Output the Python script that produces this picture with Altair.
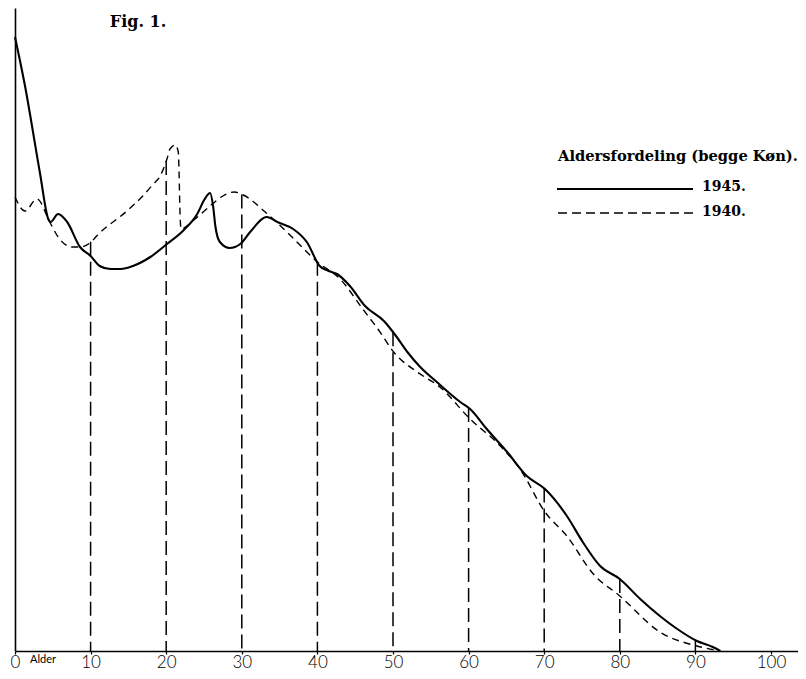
import altair as alt
import pandas as pd
import numpy as np

# ---- data (relative height units) ----
age_1945 = [0.0, 1.3, 3.3, 4.4, 4.7, 5.7, 6.9, 8.6, 10.0, 11.2, 12.6, 14.0, 15.6, 17.9,
            20.1, 22.2, 24.1, 25.1, 25.8, 26.2, 26.5, 27.1, 28.4, 29.8, 31.1, 33.3,
            34.7, 36.8, 38.6, 40.3, 41.5, 42.6, 44.3, 46.3, 48.8, 50.3, 51.9, 53.6,
            55.8, 58.9, 60.2, 62.4, 65.1, 67.7, 70.1, 73.0, 75.1, 77.4, 80.0, 82.7,
            85.3, 87.6, 90.2, 92.3, 93.3]
val_1945 = [614, 566, 478, 432, 429, 437, 429, 404, 395, 385, 382, 382, 385, 394,
            407, 420, 437, 452, 458, 445, 425, 409, 403, 407, 419, 434,
            429, 422, 409, 385, 380, 377, 365, 345, 330, 316, 299, 284,
            269, 249, 242, 222, 199, 175, 162, 135, 109, 85, 72, 52,
            35, 22, 10, 4, 0]

age_1940 = [0.0, 1.3, 2.9, 4.6, 5.7, 7.5, 8.6, 10.2, 10.8, 14.8, 16.9, 18.3, 19.2,
            20.1, 20.5, 21.2, 21.6, 21.7, 21.8, 21.96, 23.5, 25.5, 27.5, 29.0, 30.2,
            33.1, 36.5, 40.0, 43.0, 46.0, 48.0, 50.3, 53.2, 56.2, 60.2, 64.2, 66.8,
            70.1, 73.0, 76.5, 80.0, 85.3, 90.2, 93.3]
val_1940 = [454, 440, 452, 429, 414, 404, 404, 410, 415, 440, 455, 467, 475,
            492, 502, 506, 499, 479, 445, 422, 430, 443, 455, 459, 456,
            439, 415, 389, 372, 342, 322, 297, 279, 264, 232, 205, 182,
            139, 115, 77, 55, 19, 5, 0]

decades = [10, 20, 30, 40, 50, 60, 70, 80, 90]
tick_values = [0, 10, 20, 30, 40, 50, 60, 70, 80, 90, 100]

df45 = pd.DataFrame({"alder": age_1945, "v": val_1945})
df40 = pd.DataFrame({"alder": age_1940, "v": val_1940})
tops = [max(np.interp(a, age_1945, val_1945), np.interp(a, age_1940, val_1940)) for a in decades]
dfr = pd.DataFrame({"alder": decades, "top": tops})

W, H = 783, 643
xs = alt.Scale(domain=[0, 783 / 7.56], nice=False, zero=False)
ys = alt.Scale(domain=[0, 643], nice=False)

serif = "DejaVu Serif"
sans = "Lato, Open Sans, sans-serif"

x_axis = alt.Axis(values=tick_values, title=None, grid=False, domainColor="black",
                  domainWidth=1.6, tickColor="black", tickSize=3, tickWidth=1.2,
                  labelFont=sans, labelFontSize=17, labelFontWeight=300,
                  labelColor="black", labelBaseline="alphabetic", labelPadding=13,
                  labelFlush=False)
y_axis = alt.Axis(title=None, grid=False, labels=False, ticks=False, domainColor="black",
                  domainWidth=1.6)

line45 = alt.Chart(df45).mark_line(color="black", strokeWidth=2.1, interpolate="monotone").encode(
    x=alt.X("alder:Q", scale=xs, axis=x_axis),
    y=alt.Y("v:Q", scale=ys, axis=y_axis),
)
line40 = alt.Chart(df40).mark_line(color="black", strokeWidth=1.4, strokeDash=[7, 5],
                                    interpolate="monotone").encode(
    x=alt.X("alder:Q", scale=xs),
    y=alt.Y("v:Q", scale=ys),
)
rules = alt.Chart(dfr).mark_rule(color="black", strokeWidth=1.5, strokeDash=[14, 6]).encode(
    x=alt.X("alder:Q", scale=xs),
    y=alt.Y("top:Q", scale=ys),
    y2=alt.datum(0),
)

one = pd.DataFrame({"k": [0]})


def txt(s, x, y, font, size, weight="normal", align="left"):
    return alt.Chart(one).mark_text(text=s, font=font, fontSize=size, fontWeight=weight,
                                    align=align, baseline="middle", color="black").encode(
        x=alt.value(x), y=alt.value(y))


fig_title = txt("Fig. 1.", 123, 14, serif, 16, "bold", "center")
leg_title = txt("Aldersfordeling (begge Køn).", 543, 149, serif, 14.7, "bold")
leg45 = txt("1945.", 687, 179, serif, 14, "bold")
leg40 = txt("1940.", 687, 204, serif, 14, "bold")
alder = txt("Alder", 28, 652, "Lato, sans-serif", 11, "normal", "center")

leg_solid = alt.Chart(one).mark_rule(color="black", strokeWidth=1.8).encode(
    x=alt.value(542), x2=alt.value(678), y=alt.value(181))
leg_dash = alt.Chart(one).mark_rule(color="black", strokeWidth=1.4, strokeDash=[9, 5]).encode(
    x=alt.value(543), x2=alt.value(678), y=alt.value(205))

chart = alt.layer(
    rules, line40, line45, fig_title, leg_title, leg45, leg40, alder, leg_solid, leg_dash
).properties(
    width=W, height=H,
    padding={"left": 7, "top": 0, "right": 0, "bottom": 20},
    autosize=alt.AutoSizeParams(type="none"),
    background="white",
).configure_view(stroke=None)

chart.save("out.html", embed_options={"renderer": "svg", "actions": False})
